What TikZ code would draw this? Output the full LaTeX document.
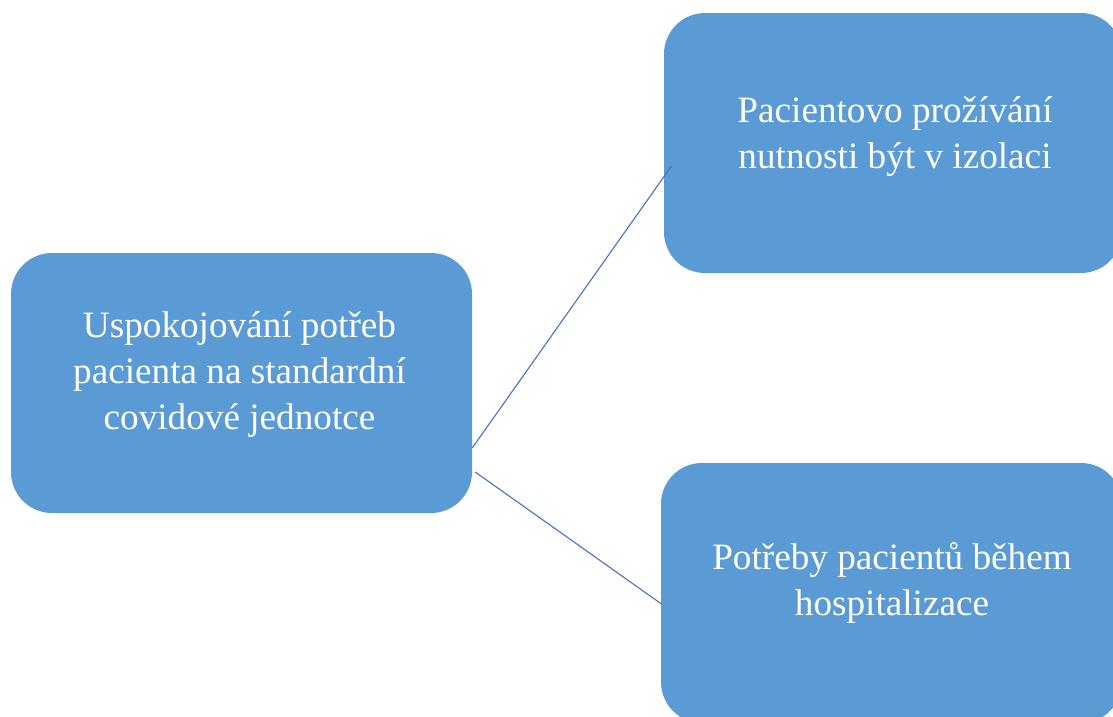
\documentclass[tikz,border=0pt]{standalone}
\usepackage{fontspec}
\setmainfont{Liberation Serif}
\definecolor{boxfill}{HTML}{5B9BD5}
\definecolor{linkcol}{HTML}{4472C4}
\tikzset{
  box/.style={rectangle, rounded corners=41pt, fill=boxfill, draw=none,
    minimum width=461pt, minimum height=260pt, inner sep=0pt},
  boxtext/.style={align=center, text=white, inner sep=0pt,
    font=\fontsize{37.2}{46}\selectfont},
  link/.style={draw=linkcol, line width=1.1pt}
}
\begin{document}
\begin{tikzpicture}[x=1pt,y=-1pt]
\useasboundingbox (0,0) rectangle (1113,716);
\clip (0,0) rectangle (1113,716);
\node[box] (a) at (241.5,383) {};
\node[box, minimum width=458pt] (b) at (893,143) {};
\node[box, minimum width=461pt] (c) at (891.5,593) {};
\coordinate (a1) at ([yshift=-65pt]a.east);
\coordinate (a2) at ([xshift=3pt,yshift=-89pt]a.east);
\coordinate (b1) at ([xshift=7.7pt,yshift=-23pt]b.west);
\coordinate (c1) at ([xshift=0.7pt,yshift=-11pt]c.west);
\draw[link] (a1) -- (b1);
\draw[link] (a2) -- (c1);
\node[boxtext] (ta) at (239.5,373.8) {\strut Uspokojování potřeb\\\strut pacienta na standardní\\\strut covidové jednotce};
\node[boxtext] (tb) at (895,135.8) {\strut Pacientovo prožívání\\\strut nutnosti být v izolaci};
\node[boxtext] (tc) at (892,583.3) {\strut Potřeby pacientů během\\\strut hospitalizace};
\end{tikzpicture}
\end{document}
